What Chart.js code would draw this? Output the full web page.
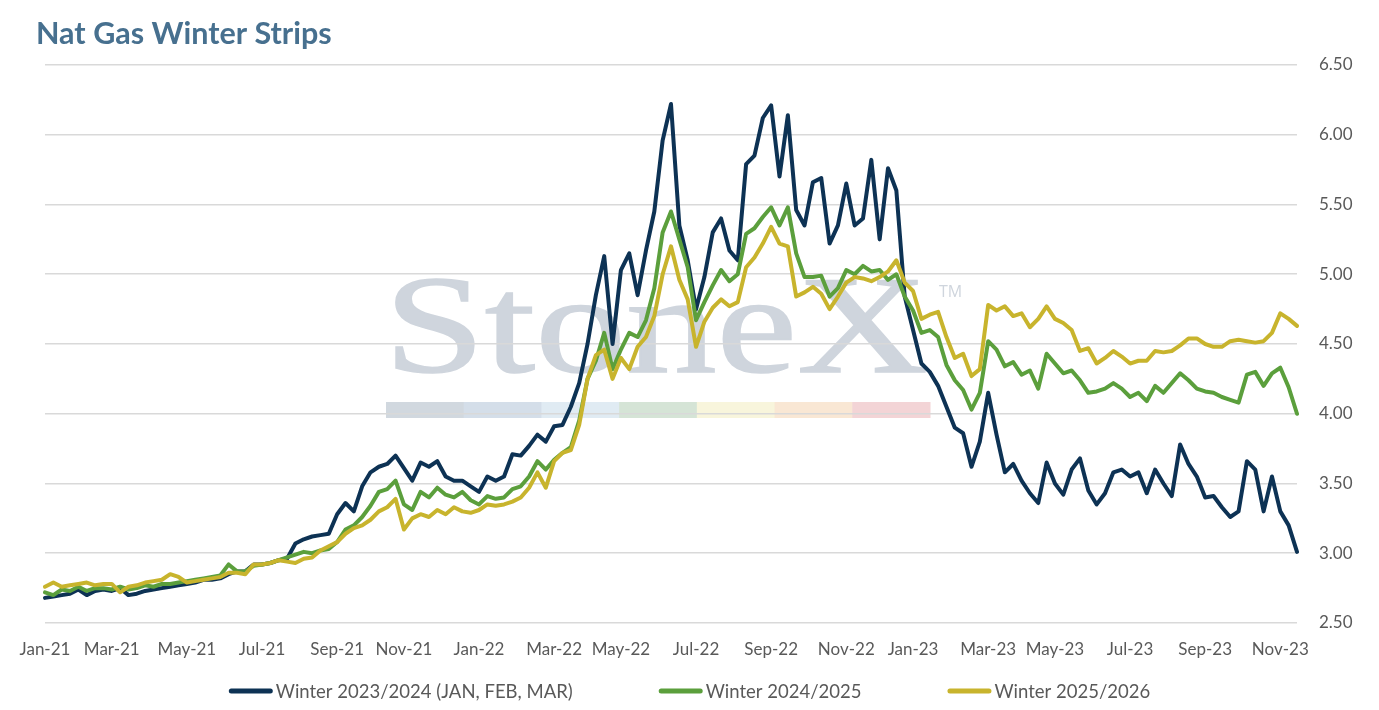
<!DOCTYPE html>
<html>
<head>
<meta charset="utf-8">
<title>Nat Gas Winter Strips</title>
<script src="https://cdn.jsdelivr.net/npm/chart.js@4.4.1/dist/chart.umd.min.js"></script>
<style>
  html, body { margin: 0; padding: 0; background: #fff; }
  #wrap { width: 1379px; height: 710px; }
</style>
</head>
<body>
<div id="wrap"><canvas id="chart" width="1379" height="710"></canvas></div>
<script>
// weekly closes, first point 2021-01-01
const firstWeek = '2021-01-01';

const seriesNames = ['Winter 2023/2024 (JAN, FEB, MAR)', 'Winter 2024/2025', 'Winter 2025/2026'];

const winter2324 = [
  2.68, 2.69, 2.70, 2.71, 2.74, 2.70, 2.73, 2.74, 2.73, 2.75,
  2.70, 2.71, 2.73, 2.74, 2.75, 2.76, 2.77, 2.78, 2.79, 2.81,
  2.81, 2.82, 2.85, 2.87, 2.87, 2.92, 2.92, 2.93, 2.95, 2.96,
  3.07, 3.10, 3.12, 3.13, 3.14, 3.28, 3.36, 3.30, 3.48, 3.58,
  3.62, 3.64, 3.70, 3.61, 3.52, 3.65, 3.62, 3.66, 3.55, 3.52,
  3.52, 3.48, 3.44, 3.55, 3.52, 3.55, 3.71, 3.70, 3.77, 3.85,
  3.80, 3.91, 3.92, 4.05, 4.22, 4.50, 4.85, 5.13, 4.50, 5.03,
  5.15, 4.85, 5.17, 5.45, 5.96, 6.22, 5.35, 5.10, 4.75, 4.98,
  5.30, 5.40, 5.17, 5.10, 5.79, 5.85, 6.12, 6.21, 5.70, 6.14,
  5.46, 5.35, 5.66, 5.69, 5.22, 5.35, 5.65, 5.35, 5.40, 5.82,
  5.25, 5.76, 5.60, 4.84, 4.60, 4.36, 4.30, 4.20, 4.05, 3.90,
  3.86, 3.62, 3.80, 4.15, 3.85, 3.58, 3.64, 3.52, 3.43, 3.36,
  3.65, 3.50, 3.42, 3.60, 3.68, 3.45, 3.35, 3.43, 3.58, 3.60,
  3.55, 3.58, 3.43, 3.60, 3.50, 3.41, 3.78, 3.64, 3.55, 3.40,
  3.41, 3.33, 3.26, 3.30, 3.66, 3.60, 3.30, 3.55, 3.30, 3.20, 3.01
];

const winter2425 = [
  2.72, 2.70, 2.74, 2.73, 2.76, 2.73, 2.75, 2.75, 2.74, 2.76,
  2.74, 2.75, 2.77, 2.76, 2.78, 2.78, 2.79, 2.80, 2.81, 2.82,
  2.83, 2.84, 2.92, 2.87, 2.87, 2.91, 2.92, 2.93, 2.95, 2.97,
  2.99, 3.01, 3.00, 3.02, 3.03, 3.08, 3.17, 3.20, 3.26, 3.34,
  3.44, 3.46, 3.52, 3.35, 3.31, 3.44, 3.40, 3.47, 3.42, 3.40,
  3.44, 3.38, 3.35, 3.41, 3.39, 3.40, 3.46, 3.48, 3.55, 3.66,
  3.60, 3.67, 3.72, 3.76, 3.95, 4.25, 4.38, 4.58, 4.32, 4.46,
  4.58, 4.55, 4.67, 4.90, 5.30, 5.45, 5.25, 5.05, 4.67, 4.80,
  4.92, 5.03, 4.95, 5.00, 5.29, 5.33, 5.41, 5.48, 5.35, 5.48,
  5.15, 4.98, 4.98, 4.99, 4.84, 4.90, 5.03, 5.00, 5.06, 5.02,
  5.03, 4.96, 5.00, 4.84, 4.74, 4.58, 4.60, 4.55, 4.35, 4.24,
  4.17, 4.03, 4.15, 4.52, 4.46, 4.34, 4.37, 4.28, 4.31, 4.18,
  4.43, 4.36, 4.29, 4.31, 4.24, 4.15, 4.16, 4.18, 4.22, 4.18,
  4.12, 4.15, 4.09, 4.20, 4.15, 4.22, 4.29, 4.24, 4.18, 4.16,
  4.15, 4.12, 4.10, 4.08, 4.28, 4.30, 4.20, 4.29, 4.33, 4.19, 4.00
];

const winter2526 = [
  2.76, 2.79, 2.76, 2.77, 2.78, 2.79, 2.77, 2.78, 2.78, 2.72,
  2.76, 2.77, 2.79, 2.80, 2.81, 2.85, 2.83, 2.79, 2.80, 2.81,
  2.82, 2.83, 2.86, 2.86, 2.85, 2.92, 2.92, 2.93, 2.95, 2.94,
  2.93, 2.96, 2.97, 3.02, 3.05, 3.08, 3.14, 3.18, 3.20, 3.24,
  3.30, 3.33, 3.39, 3.17, 3.25, 3.28, 3.26, 3.31, 3.28, 3.33,
  3.30, 3.29, 3.31, 3.35, 3.34, 3.35, 3.37, 3.40, 3.47, 3.58,
  3.47, 3.66, 3.72, 3.74, 3.92, 4.25, 4.42, 4.46, 4.25, 4.40,
  4.32, 4.48, 4.55, 4.70, 5.00, 5.20, 4.96, 4.82, 4.48, 4.66,
  4.76, 4.82, 4.77, 4.80, 5.05, 5.12, 5.22, 5.34, 5.22, 5.20,
  4.84, 4.87, 4.91, 4.86, 4.75, 4.84, 4.94, 4.98, 4.97, 4.95,
  4.98, 5.02, 5.10, 4.94, 4.88, 4.68, 4.71, 4.73, 4.55, 4.40,
  4.43, 4.27, 4.32, 4.78, 4.74, 4.77, 4.70, 4.72, 4.62, 4.68,
  4.77, 4.68, 4.65, 4.60, 4.45, 4.47, 4.36, 4.40, 4.45, 4.41,
  4.36, 4.38, 4.38, 4.45, 4.44, 4.45, 4.49, 4.54, 4.54, 4.50,
  4.48, 4.48, 4.52, 4.53, 4.52, 4.51, 4.52, 4.58, 4.72, 4.68, 4.63
];

const tickLabels = ['Jan-21', 'Mar-21', 'May-21', 'Jul-21', 'Sep-21', 'Nov-21',
  'Jan-22', 'Mar-22', 'May-22', 'Jul-22', 'Sep-22', 'Nov-22',
  'Jan-23', 'Mar-23', 'May-23', 'Jul-23', 'Sep-23', 'Nov-23'];

const monthNames = ['Jan','Feb','Mar','Apr','May','Jun','Jul','Aug','Sep','Oct','Nov','Dec'];
const DAY = 86400000;
const textColor = '#595959';
const fontFamily = 'Lato, "Open Sans", sans-serif';

// one category per week
const weekDates = winter2324.map((_, i) => new Date(Date.parse(firstWeek) + i * 7 * DAY));

// label a week if it is the nearest point to the 1st of a month
function monthLabel(d){
  let y = d.getUTCFullYear(), m = d.getUTCMonth();
  if (d.getUTCDate() - 1 > 3) {
    const next = new Date(Date.UTC(y, m + 1, 1));
    if ((next - d) / DAY > 3) return '';
    y = next.getUTCFullYear(); m = next.getUTCMonth();
  }
  return monthNames[m] + '-' + String(y).slice(2);
}
const weekTicks = weekDates.map(d => {
  const l = monthLabel(d);
  return tickLabels.includes(l) ? l : '';
});

// StoneX watermark behind grid
const watermark = {
  id: 'watermark',
  beforeDraw(chart){
    const ctx = chart.ctx;
    ctx.save();
    ctx.font = '140px "Liberation Serif", "DejaVu Serif", serif';
    const w = ctx.measureText('StoneX').width;
    ctx.translate(384, 372);
    ctx.scale(544 / w, 1);
    ctx.fillStyle = '#cfd5dd';
    ctx.strokeStyle = '#cfd5dd';
    ctx.lineWidth = 1.5;
    ctx.textBaseline = 'alphabetic';
    ctx.fillText('StoneX', 0, 0);
    ctx.strokeText('StoneX', 0, 0);
    ctx.restore();

    ctx.save();
    ctx.fillStyle = '#cfd5dd';
    ctx.font = '16px "Open Sans", sans-serif';
    ctx.fillText('TM', 939, 297);
    const barColors = ['#d1d8df', '#d4dee9', '#e0ebf3', '#d5e4d6', '#f8f5dc', '#f9e7d4', '#f3d4d6'];
    const bx = 386, bw = 544 / barColors.length;
    barColors.forEach((c, i) => {
      ctx.fillStyle = c;
      ctx.fillRect(bx + i * bw, 402, bw + 0.5, 16);
    });
    ctx.restore();
  }
};

// title and legend
const decorations = {
  id: 'decorations',
  afterDraw(chart){
    const ctx = chart.ctx;
    ctx.save();
    ctx.fillStyle = '#47708f';
    ctx.font = 'bold 30.5px ' + fontFamily;
    ctx.textBaseline = 'alphabetic';
    ctx.fillText('Nat Gas Winter Strips', 36, 44);

    ctx.font = '18.5px ' + fontFamily;
    ctx.textBaseline = 'middle';
    const lineW = 44, gapText = 3, gapItem = 86, y = 691;
    const items = chart.data.datasets.map(ds => ({ text: ds.label, color: ds.borderColor }));
    const widths = items.map(it => lineW + gapText + ctx.measureText(it.text).width);
    const total = widths.reduce((s, w) => s + w, 0) + gapItem * (items.length - 1);
    let x = (chart.width - total) / 2;
    items.forEach((it, i) => {
      ctx.strokeStyle = it.color;
      ctx.lineWidth = 5;
      ctx.lineCap = 'round';
      ctx.beginPath();
      ctx.moveTo(x + 2.5, y);
      ctx.lineTo(x + lineW - 2.5, y);
      ctx.stroke();
      ctx.fillStyle = textColor;
      ctx.fillText(it.text, x + lineW + gapText, y + 1);
      x += widths[i] + gapItem;
    });
    ctx.restore();
  }
};

function makeSet(label, data, color, order){
  return {
    label, data,
    borderColor: color,
    backgroundColor: color,
    borderWidth: 4,
    pointRadius: 0,
    tension: 0,
    borderJoinStyle: 'round',
    borderCapStyle: 'round',
    order
  };
}

const ctx = document.getElementById('chart').getContext('2d');
new Chart(ctx, {
  type: 'line',
  data: {
    labels: weekDates.map(d => d.toISOString().slice(0, 10)),
    datasets: [
      makeSet(seriesNames[0], winter2324, '#0d3254', 2),
      makeSet(seriesNames[1], winter2425, '#5b9f3c', 1),
      makeSet(seriesNames[2], winter2526, '#c8b42d', 0)
    ]
  },
  options: {
    responsive: false,
    animation: false,
    devicePixelRatio: 1,
    layout: { padding: { left: 45, top: 65, right: 0, bottom: 42 } },
    plugins: {
      legend: { display: false },
      tooltip: { enabled: false }
    },
    scales: {
      x: {
        grid: { display: false, drawTicks: false },
        border: { display: false },
        ticks: {
          autoSkip: false, maxRotation: 0, minRotation: 0,
          padding: 16, color: textColor,
          font: { family: fontFamily, size: 17 },
          callback: (v, i) => weekTicks[i]
        },
        afterFit(s){ s.height = 45; }
      },
      y: {
        position: 'right',
        min: 2.5, max: 6.5,
        grid: { color: '#d9d9d9', lineWidth: 1.6, drawTicks: false },
        border: { display: false },
        ticks: {
          stepSize: 0.5, padding: 22, color: textColor,
          font: { family: fontFamily, size: 17 },
          callback: v => v.toFixed(2)
        },
        afterFit(s){ s.width = 82; }
      }
    }
  },
  plugins: [watermark, decorations]
});
</script>
</body>
</html>
